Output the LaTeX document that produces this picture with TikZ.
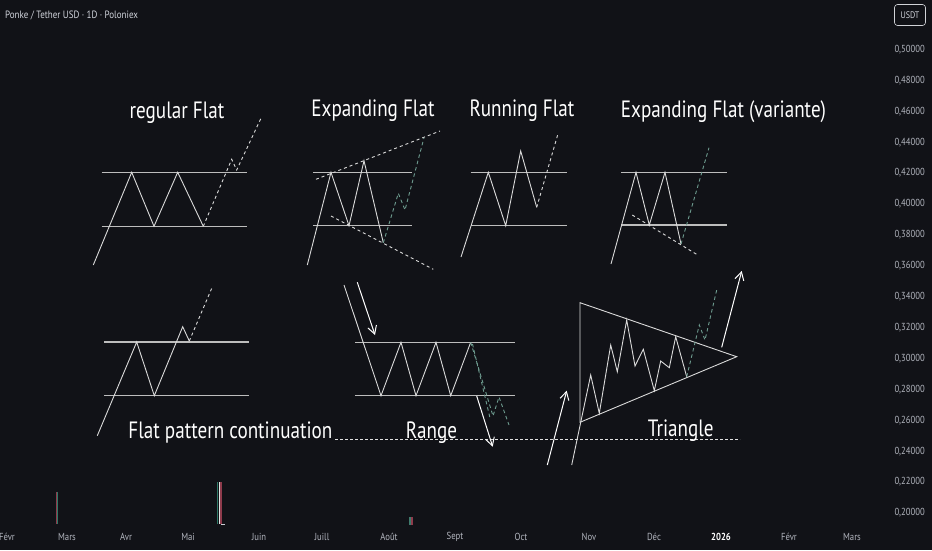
\documentclass[tikz,border=0pt]{standalone}
\usepackage{fontspec}
\setmainfont{PT Sans}
\newfontfamily\lbl[FakeStretch=0.81]{PT Sans}
\newfontfamily\uifont[FakeStretch=0.85]{PT Sans}
\usetikzlibrary{arrows.meta}
\definecolor{bg}{HTML}{111217}
\definecolor{zz}{HTML}{DADADA}
\definecolor{hz}{HTML}{BDBDBD}
\definecolor{gdc}{HTML}{6E9C90}
\definecolor{axc}{HTML}{B2B5BE}
\definecolor{hdc}{HTML}{D1D4DC}
\definecolor{volr}{HTML}{8E3B4C}
\definecolor{volg}{HTML}{2F7A68}
\begin{document}
\begin{tikzpicture}[x=1pt,y=-1pt,
  wl/.style={draw=zz, line width=0.9pt, line join=miter},
  hl/.style={draw=hz, line width=1.4pt},
  gd/.style={draw=gdc, line width=0.9pt, dash pattern=on 3.5pt off 3pt},
  wd/.style={draw=zz, line width=0.9pt, dash pattern=on 3pt off 3pt},
  arr/.style={draw=white, line width=1pt, -{Straight Barb[length=8pt,width=9pt,line width=1pt]}},
  title/.style={text=white, font=\lbl\fontsize{23.6}{24}\selectfont, inner sep=0pt, anchor=base},
  ax/.style={text=axc, font=\uifont\fontsize{10.2}{10}\selectfont, inner sep=0pt, anchor=east},
  mon/.style={text=axc, font=\uifont\fontsize{10.2}{10}\selectfont, inner sep=0pt},
]
\fill[bg] (0,0) rectangle (932,550);
\useasboundingbox (0,0) rectangle (932,550);

% header
\node[text=hdc, font=\uifont\fontsize{10.6}{11}\selectfont, inner sep=0pt, anchor=base west] (hdr) at (5,18.5) {Ponke / Tether USD · 1D · Poloniex};
\node[draw=axc!60, rounded corners=3pt, line width=0.6pt, minimum width=31pt, minimum height=21pt, text=hdc, font=\uifont\fontsize{9.5}{10}\selectfont, inner sep=0pt] (usdt) at (910,15) {USDT};

% price axis
\foreach \v [count=\k from 0] in {50,48,46,44,42,40,38,36,34,32,30,28,26,24,22,20}
  \node[ax] (p\v) at (925,{49.5+30.9*\k}) {0,\v000};

% month axis
\foreach \m/\xx in {Févr/7,Mars/67,Avr/126,Mai/188,Juin/259,Juill/322,Août/389,Sept/455,Oct/521,Nov/589,Déc/654,Févr/789,Mars/852}
  \node[mon] (m\xx) at (\xx,537) {\m};
\node[mon, text=white, font=\uifont\bfseries\fontsize{10.2}{10}\selectfont] (y2026) at (721,537) {2026};

% volume bars
\draw[volr, line width=1pt] (56.5,492) -- (56.5,524);
\draw[volg, line width=0.8pt] (57.6,492) -- (57.6,524);
\draw[volg, line width=1.2pt] (217.6,482) -- (217.6,524);
\draw[zz!70, line width=0.8pt] (219.2,482) -- (219.2,524);
\draw[volr, line width=1.2pt] (221,482) -- (221,524);
\draw[axc!70, line width=0.6pt] (221,524) -- (225,524);
\fill[volg!80!gray] (408.5,517) rectangle (410.6,525);
\fill[volr] (410.6,517) rectangle (412.6,525);

% ---------------- regular Flat
\node[title] (t1) at (177,118.3) {regular Flat};
\draw[hl] (101.7,172.3) -- (246.7,172.3);
\draw[hl] (101.7,226.3) -- (246.7,226.3);
\draw[wl] (93.3,265) -- (131.7,172.3) -- (154,226.3) -- (177.7,172.3) -- (203.3,226.3);
\draw[wd] (203.3,226.3) -- (231.7,159.3) -- (236.7,170) -- (261.7,116.7);

% ---------------- Expanding Flat
\node[title] (t2) at (373,116.7) {Expanding Flat};
\draw[hl] (313.3,172.3) -- (412.3,172.3);
\draw[hl] (313.3,225.7) -- (412.3,225.7);
\draw[wd] (316,179.3) -- (440,131);
\draw[wd] (331,216) -- (433.3,269.3);
\draw[wl] (307.3,265) -- (331,172.3) -- (349,225.7) -- (364,160.7) -- (383.3,242.7);
\draw[gd] (383.3,242.7) -- (398.3,193.3) -- (405,210) -- (424,137.7);

% ---------------- Running Flat
\node[title] (t3) at (522,116) {Running Flat};
\draw[hl] (470.7,172.3) -- (567.3,172.3);
\draw[hl] (470.7,225.7) -- (567.3,225.7);
\draw[wl] (461,257) -- (488.3,172.3) -- (505.7,225.7) -- (520.7,151) -- (536.7,207.3);
\draw[wd] (536.7,207.3) -- (558.3,132.7);

% ---------------- Expanding Flat (variante)
\node[title] (t4) at (723.5,117.3) {Expanding Flat (variante)};
\draw[hl] (621,172.3) -- (726.7,172.3);
\draw[hl] (621,225) -- (726.7,225);
\draw[wd] (632.3,215) -- (697.7,255);
\draw[wl] (611,264) -- (636,172.3) -- (649.3,225) -- (665,172.3) -- (681,244);
\draw[gd] (681,244) -- (709,147.7);

% ---------------- Flat pattern continuation
\draw[hl] (104,342) -- (248.7,342);
\draw[hl] (104,395.7) -- (248.7,395.7);
\draw[wl] (97.3,435.7) -- (136.7,342) -- (154.3,395.7) -- (182.7,326.7) -- (189.3,341);
\draw[wd] (189.3,341) -- (212.7,286);

% horizontal dotted line
\coordinate (hs) at (335,439);
\coordinate (he) at (740,439);
\draw[zz!85, line width=0.9pt, dash pattern=on 2.5pt off 2.5pt] (hs) -- (he);
\node[title] (t5) at (230.4,438.3) {Flat pattern continuation};

% ---------------- Range
\draw[hl] (355,342.3) -- (515,342.3);
\draw[hl] (355,395.7) -- (515,395.7);
\draw[wl] (344,285) -- (381,395.7) -- (401,342.3) -- (416,395.7) -- (436,342.3) -- (450.7,395.7) -- (470.7,342.3);
\draw[gd] (470.7,342.3) -- (493,416) -- (499,397) -- (509,425);
\draw[gd] (472.5,344) -- (490,418);
\coordinate (ra1s) at (357.3,282.3);
\coordinate (ra1e) at (375,335);
\draw[arr] (ra1s) -- (ra1e);
\coordinate (ra2s) at (476.7,396);
\coordinate (ra2e) at (492.7,446.7);
\draw[arr] (ra2s) -- (ra2e);
\node[title] (t6) at (431.5,438.3) {Range};

% ---------------- Triangle
\coordinate (ta) at (580,302.7);
\coordinate (tb) at (580,422.3);
\coordinate (tc) at (736.7,356.7);
\draw[wl] (ta) -- (tb) -- (tc) -- cycle;
\draw[wl] (571.7,465) -- (590.7,375) -- (599.3,413.3) -- (610.7,345) -- (617.3,371.7) -- (626.7,320) -- (635,366) -- (643.3,349.3) -- (654.3,390.7) -- (660.7,361) -- (669.3,367.7) -- (675.7,336.7) -- (686.7,376.7);
\draw[gd] (686.7,376.7) -- (699.3,325) -- (705,340) -- (716.7,290);
\coordinate (tl1) at (547.3,465);
\coordinate (tl2) at (566.7,390.7);
\draw[arr] (tl1) -- (tl2);
\coordinate (tr1) at (721.7,347.3);
\coordinate (tr2) at (741.7,271);
\draw[arr] (tr1) -- (tr2);
\node[title] (t7) at (680.8,436.7) {Triangle};
\end{tikzpicture}
\end{document}
